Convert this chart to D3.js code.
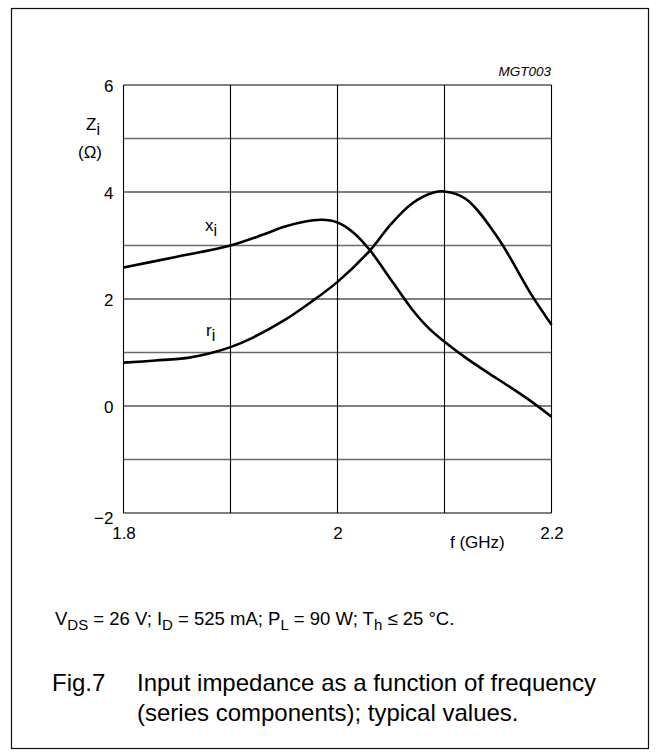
<!DOCTYPE html>
<html>
<head>
<meta charset="utf-8">
<script src="https://cdn.jsdelivr.net/npm/d3@7"></script>
<style>
  html, body { margin: 0; padding: 0; background: #fff; }
  svg { display: block; }
  text { font-family: "Liberation Sans", Arial, Helvetica, sans-serif; fill: #000; }
</style>
</head>
<body>
<svg id="chart" width="656" height="756"></svg>
<script>
// ---- data ----
const xiFreq = [1.80, 1.85, 1.90, 1.93, 1.95, 1.97, 1.985, 2.00, 2.015, 2.03, 2.05, 2.07, 2.085, 2.10, 2.12, 2.14, 2.16, 2.18, 2.20];
const xiVal  = [2.59, 2.79, 3.00, 3.20, 3.35, 3.45, 3.48, 3.43, 3.24, 2.92, 2.36, 1.80, 1.46, 1.20, 0.90, 0.63, 0.37, 0.10, -0.20];
const riFreq = [1.80, 1.83, 1.86, 1.88, 1.90, 1.92, 1.95, 1.975, 2.00, 2.03, 2.05, 2.07, 2.09, 2.10, 2.12, 2.15, 2.18, 2.20];
const riVal  = [0.81, 0.85, 0.90, 0.98, 1.10, 1.27, 1.60, 1.94, 2.32, 2.90, 3.40, 3.79, 3.99, 4.01, 3.87, 3.14, 2.12, 1.52];
const xTicks = [1.8, 1.9, 2.0, 2.1, 2.2];
const xTickLabels = ["1.8", "", "2", "", "2.2"];
const yTicks = [-2, -1, 0, 1, 2, 3, 4, 5, 6];
const yTickLabels = ["\u22122", "", "0", "", "2", "", "4", "", "6"];

const svg = d3.select("#chart");
const FONT = "Liberation Sans, Arial, sans-serif";

// outer frame
svg.append("rect").attr("x", 11.5).attr("y", 8.5).attr("width", 637).attr("height", 740)
  .attr("fill", "none").attr("stroke", "#111").attr("stroke-width", 1.2);

const pLeft = 123.5, pRight = 551.5, pTop = 85, pBottom = 513;
const x = d3.scaleLinear().domain([1.8, 2.2]).range([pLeft, pRight]);
const y = d3.scaleLinear().domain([-2, 6]).range([pBottom, pTop]);

const g = svg.append("g");

// horizontal grid lines
g.selectAll("line.h").data(yTicks).join("line")
  .attr("x1", pLeft).attr("x2", pRight)
  .attr("y1", d => y(d)).attr("y2", d => y(d))
  .attr("stroke", d => (Math.abs(d) % 2 === 1) ? "#6a6a6a" : "#000")
  .attr("stroke-width", d => (Math.abs(d) % 2 === 1) ? 1.6 : 1.1);

// vertical grid lines
g.selectAll("line.v").data(xTicks).join("line")
  .attr("x1", d => x(d)).attr("x2", d => x(d))
  .attr("y1", pTop).attr("y2", pBottom)
  .attr("stroke", "#000").attr("stroke-width", 1.1);

// axes tick labels via d3 axes (domain/ticks hidden)
const yAxis = d3.axisLeft(y).tickValues(yTicks).tickSize(0).tickPadding(10)
  .tickFormat((d, i) => yTickLabels[i]);
const ya = svg.append("g").attr("transform", `translate(${pLeft},0)`).call(yAxis);
ya.select(".domain").remove();
ya.selectAll("text").attr("font-family", FONT).attr("font-size", 17).attr("fill", "#000")
  .attr("dy", d => d === -2 ? "0.62em" : "0.36em");

const xAxis = d3.axisBottom(x).tickValues(xTicks).tickSize(0).tickPadding(14)
  .tickFormat((d, i) => xTickLabels[i]);
const xa = svg.append("g").attr("transform", `translate(0,${pBottom})`).call(xAxis);
xa.select(".domain").remove();
xa.selectAll("text").attr("font-family", FONT).attr("font-size", 17).attr("fill", "#000");

// curves
const line = d3.line().x(d => x(d[0])).y(d => y(d[1])).curve(d3.curveCatmullRom.alpha(0.5));
const xiData = xiFreq.map((f, i) => [f, xiVal[i]]);
const riData = riFreq.map((f, i) => [f, riVal[i]]);
[xiData, riData].forEach(dat => {
  svg.append("path").datum(dat).attr("d", line)
    .attr("fill", "none").attr("stroke", "#000").attr("stroke-width", 2.6)
    .attr("stroke-linejoin", "round");
});

// curve labels
function subLabel(px, py, main, sub, size) {
  const t = svg.append("text").attr("x", px).attr("y", py).attr("font-size", size);
  t.append("tspan").text(main);
  t.append("tspan").attr("dy", size * 0.3).attr("font-size", size * 0.95).text(sub);
  return t;
}
subLabel(205, 231, "x", "i", 17);
subLabel(206, 336, "r", "i", 17);

// axis titles
subLabel(86, 130, "Z", "i", 17);
svg.append("text").attr("x", 78).attr("y", 158).attr("font-size", 17).text("(\u03A9)");
svg.append("text").attr("x", 450).attr("y", 548).attr("font-size", 17).text("f (GHz)");

// figure code
svg.append("text").attr("x", 551).attr("y", 76).attr("text-anchor", "end")
  .attr("font-size", 13.5).attr("font-style", "italic").text("MGT003");

// conditions line
(function () {
  const t = svg.append("text").attr("x", 55).attr("y", 625).attr("font-size", 18.5);
  const parts = [["V", 0], ["DS", 1], [" = 26 V; I", 0], ["D", 1], [" = 525 mA; P", 0], ["L", 1],
                 [" = 90 W; T", 0], ["h", 1], [" \u2264 25 \u00B0C.", 0]];
  let prev = 0;
  parts.forEach(([s, sub]) => {
    const dy = (sub - prev) * 5;
    t.append("tspan").attr("dy", dy).attr("font-size", sub ? 15 : 18.5).text(s);
    prev = sub;
  });
})();

// caption
svg.append("text").attr("x", 52).attr("y", 691).attr("font-size", 24).text("Fig.7");
svg.append("text").attr("x", 137).attr("y", 691).attr("font-size", 24).text("Input impedance as a function of frequency");
svg.append("text").attr("x", 137).attr("y", 721).attr("font-size", 24).text("(series components); typical values.");
</script>
</body>
</html>
